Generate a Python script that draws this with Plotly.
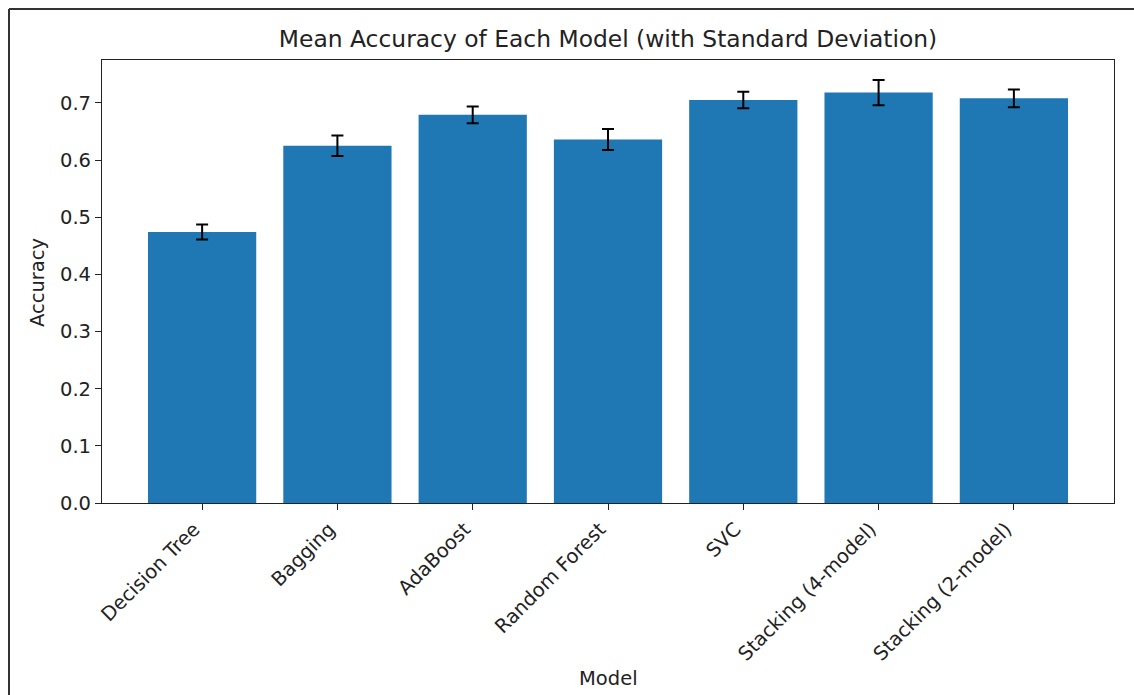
import plotly.graph_objects as go

models = ["Decision Tree", "Bagging", "AdaBoost", "Random Forest", "SVC",
          "Stacking (4-model)", "Stacking (2-model)"]
mean_acc = [0.474, 0.625, 0.679, 0.636, 0.705, 0.718, 0.708]
std_acc = [0.013, 0.018, 0.0145, 0.0184, 0.0145, 0.022, 0.0155]
y_ticks = [0.0, 0.1, 0.2, 0.3, 0.4, 0.5, 0.6, 0.7]

FONT = "DejaVu Sans"
TXT = "#222222"
FS = 19.5
FS_TITLE = 23.4

fig = go.Figure(
    go.Bar(
        x=list(range(len(models))),
        y=mean_acc,
        marker=dict(color="#1f77b4", line=dict(width=0)),
        error_y=dict(type="data", array=std_acc, visible=True,
                     color="black", thickness=2, width=6),
        width=0.8,
    )
)

W, H = 1134, 695
L, R, T, B = 102, 20, 60, 192
pw, ph = W - L - R, H - T - B

def px2paper_x(px):
    return (px - L) / pw

def px2paper_y(py):
    return (H - B - py) / ph

fig.update_layout(
    width=W, height=H,
    margin=dict(l=L, r=R, t=T, b=B, pad=0),
    paper_bgcolor="white", plot_bgcolor="white",
    font=dict(family=FONT, size=FS, color=TXT),
    showlegend=False,
    title=dict(text="Mean Accuracy of Each Model (with Standard Deviation)",
               x=px2paper_x(608), xref="paper", xanchor="center",
               y=1 - 39 / H, yanchor="middle",
               font=dict(family=FONT, size=FS_TITLE, color=TXT)),
    xaxis=dict(
        range=[-0.74, 6.74],
        tickmode="array",
        tickvals=list(range(len(models))),
        ticktext=models,
        tickangle=-45,
        ticklabelshift=-8,
        ticks="outside", ticklen=6, tickwidth=1.2, tickcolor=TXT,
        showline=True, linecolor=TXT, linewidth=1.2, mirror=True,
        showgrid=False, zeroline=False,
        tickfont=dict(family=FONT, size=FS, color=TXT),
    ),
    yaxis=dict(
        range=[0, 0.775],
        tickmode="array",
        tickvals=y_ticks,
        ticktext=[f"{v:.1f}" for v in y_ticks],
        ticks="outside", ticklen=6, tickwidth=1.2, tickcolor=TXT,
        showline=True, linecolor=TXT, linewidth=1.2, mirror=True,
        showgrid=False, zeroline=False,
        tickfont=dict(family=FONT, size=FS, color=TXT),
    ),
    annotations=[
        dict(text="Model", xref="paper", yref="paper",
             x=px2paper_x(608), y=px2paper_y(679),
             xanchor="center", yanchor="middle", showarrow=False,
             font=dict(family=FONT, size=FS, color=TXT)),
        dict(text="Accuracy", xref="paper", yref="paper",
             x=px2paper_x(37), y=px2paper_y(283), textangle=-90,
             xanchor="center", yanchor="middle", showarrow=False,
             font=dict(family=FONT, size=FS, color=TXT)),
    ],
    shapes=[
        dict(type="line", xref="paper", yref="paper",
             x0=px2paper_x(9), x1=px2paper_x(W + 5),
             y0=px2paper_y(9), y1=px2paper_y(9),
             line=dict(color="#333333", width=2)),
        dict(type="line", xref="paper", yref="paper",
             x0=px2paper_x(9), x1=px2paper_x(9),
             y0=px2paper_y(9), y1=px2paper_y(H + 5),
             line=dict(color="#333333", width=2)),
    ],
)

fig.write_html(
    "out.html",
    config={"displayModeBar": False},
    post_script="document.body.style.margin='0';document.body.style.padding='0';",
)
